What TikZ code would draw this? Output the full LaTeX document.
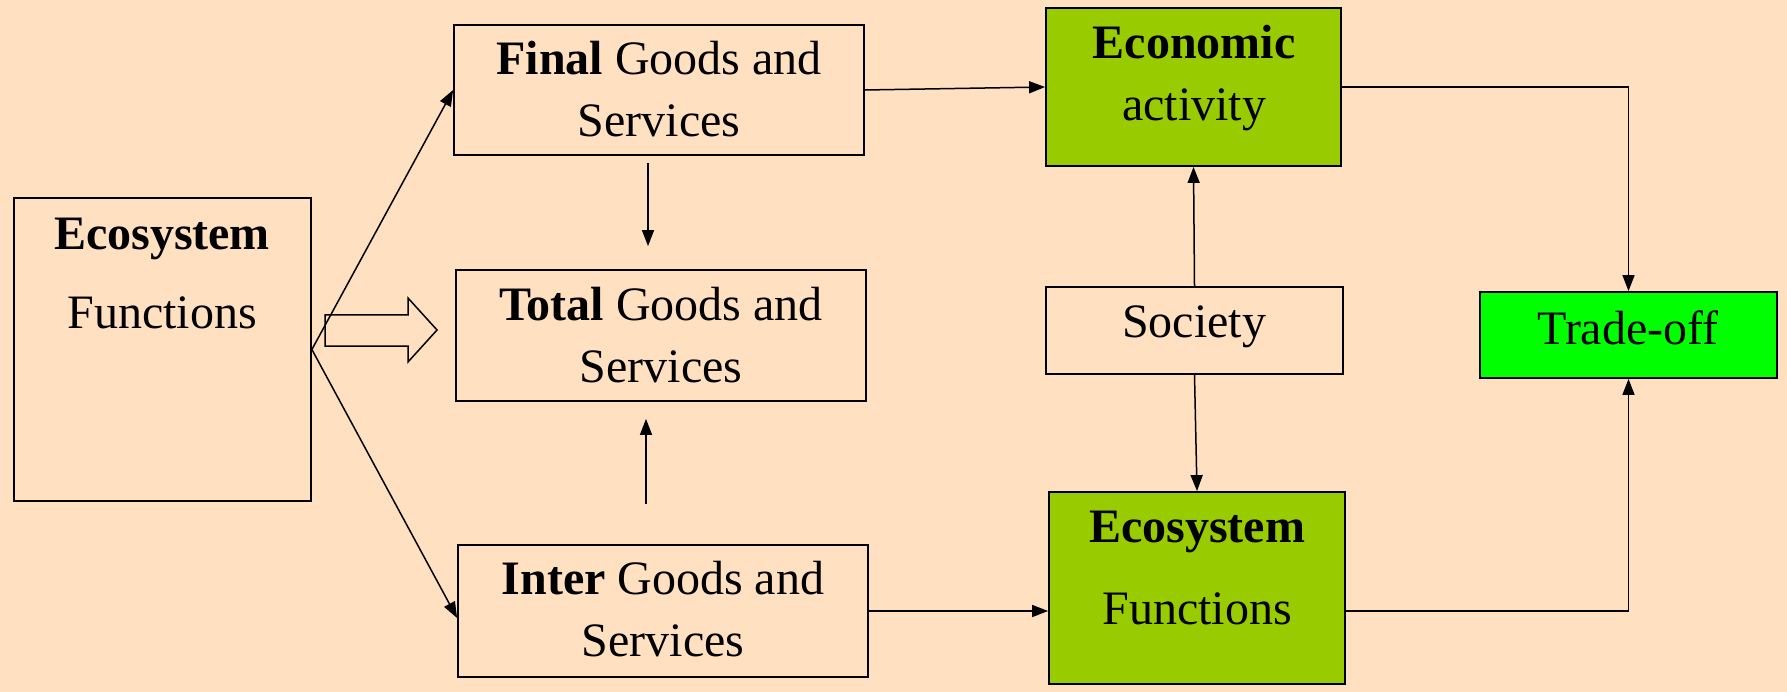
\documentclass[tikz,border=0pt]{standalone}
\usepackage{fontspec}
\setmainfont{Liberation Serif}
\usetikzlibrary{arrows.meta,calc}
\definecolor{peach}{RGB}{255,224,192}
\definecolor{leaf}{RGB}{153,204,0}
\definecolor{lime}{RGB}{0,255,0}

\tikzset{
	box/.style={draw, line width=1.8pt, fill=peach, inner sep=0pt},
	txt/.style={font=\fontsize{48}{62}\selectfont, align=center, inner sep=0pt},
	arr/.style={line width=1.5pt, -{Triangle[length=16pt,width=12pt]}},
}

\begin{document}
\begin{tikzpicture}[x=1pt,y=-1pt]
	\fill[peach] (0,0) rectangle (1787,692);
	\useasboundingbox (0,0) rectangle (1787,692);
	
	% ecosystem on the left
	\node[box, minimum width=297pt, minimum height=303pt] (ecoL) at (162.5,349.5) {};
	\node[txt] (ecoLT) at (162,273.5) {\textbf{Ecosystem}\\[17pt]Functions};
	
	% goods and services
	\node[box, minimum width=410pt, minimum height=130pt] (final) at (659,90) {};
	\node[txt] (finalT) at (659,89) {\textbf{Final} Goods and\\Services};
	
	\node[box, minimum width=410pt, minimum height=131pt] (total) at (661,335.5) {};
	\node[txt] (totalT) at (661,335.5) {\textbf{Total} Goods and\\Services};
	
	\node[box, minimum width=410pt, minimum height=132pt] (inter) at (663,611) {};
	\node[txt] (interT) at (663,609) {\textbf{Inter} Goods and\\Services};
	
	% society and its two sides
	\node[box, fill=leaf, minimum width=295pt, minimum height=158pt] (econ) at (1193.5,87) {};
	\node[txt] (econT) at (1194,78) {\textbf{Economic}\\activity};
	
	\node[box, minimum width=297pt, minimum height=87pt] (society) at (1194.5,330.5) {};
	\node[txt] (societyT) at (1194,327) {Society};
	
	\node[box, fill=leaf, minimum width=296pt, minimum height=192pt] (ecoR) at (1197,588) {};
	\node[txt] (ecoRT) at (1197,568) {\textbf{Ecosystem}\\[20pt]Functions};
	
	\node[box, fill=lime, minimum width=297pt, minimum height=86pt] (trade) at (1628.5,335) {};
	\node[txt] (tradeT) at (1628,328) {Trade-off};
	
	% fat arrow
	\draw[line width=1.5pt, fill=peach] (325,315) -- (408,315) -- (408,298) -- (437,330) -- (408,362) -- (408,346) -- (325,346) -- cycle;
	
	% connectors
	\draw[arr] (ecoL.east) -- (final.west);
	\draw[arr] (ecoL.east) -- ([yshift=-7pt]inter.west);
	
	\draw[arr] ([shift={(-11,7)}]final.south) -- ([shift={(-13,-23)}]total.north);
	\draw[arr] ([shift={(-17,-40)}]inter.north) -- ([shift={(-15,17)}]total.south);
	
	\draw[arr] (final.east) -- (econ.west);
	\draw[arr] (inter.east) -- (inter.east -| ecoR.west);
	
	\draw[arr] (society.north) -- (econ.south);
	\draw[arr] (society.south) -- (ecoR.north);
	
	\draw[arr] (econ.east) -| (trade.north);
	\draw[arr] (ecoR.east |- inter.east) -| (trade.south);
	
\end{tikzpicture}
\end{document}
